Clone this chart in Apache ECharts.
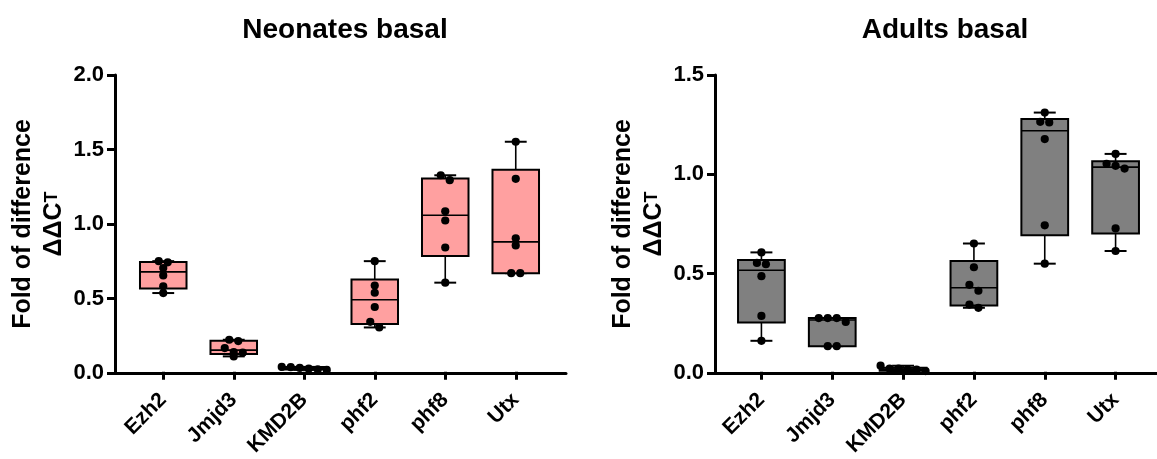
<!DOCTYPE html>
<html>
<head>
<meta charset="utf-8">
<script src="https://cdn.jsdelivr.net/npm/echarts@6/dist/echarts.min.js"></script>
<style>
html,body{margin:0;padding:0;background:#fff;}
#c{width:1157px;height:459px;}
</style>
</head>
<body>
<div id="c"></div>
<script>
// ---- data ----
const categories = ['Ezh2', 'Jmjd3', 'KMD2B', 'phf2', 'phf8', 'Utx'];
const yTicksNeo = [0, 0.5, 1.0, 1.5, 2.0];
const yTicksAdu = [0, 0.5, 1.0, 1.5];

// Neonates basal
const neoMin = [0.530, 0.103, 0.012, 0.298, 0.600, 0.664];
const neoQ1  = [0.561, 0.119, 0.014, 0.322, 0.779, 0.664];
const neoMed = [0.673, 0.145, 0.022, 0.485, 1.054, 0.875];
const neoQ3  = [0.740, 0.208, 0.031, 0.622, 1.302, 1.362];
const neoMax = [0.745, 0.215, 0.032, 0.745, 1.324, 1.550];
const neoPoints = [
  [0.745, 0.737, 0.698, 0.649, 0.575, 0.530],
  [0.215, 0.206, 0.159, 0.132, 0.128, 0.103],
  [0.032, 0.020, 0.012, 0.015, 0.025, 0.030],
  [0.745, 0.581, 0.532, 0.436, 0.336, 0.298],
  [1.324, 1.291, 1.081, 1.019, 0.837, 0.600],
  [1.550, 1.300, 0.899, 0.851, 0.664, 0.664]
];

// Adults basal
const aduMin = [0.156, 0.129, 0.003, 0.323, 0.546, 0.610];
const aduQ1  = [0.248, 0.129, 0.005, 0.335, 0.690, 0.699];
const aduMed = [0.513, 0.261, 0.012, 0.424, 1.218, 1.034];
const aduQ3  = [0.565, 0.271, 0.020, 0.560, 1.277, 1.064];
const aduMax = [0.603, 0.271, 0.030, 0.648, 1.310, 1.101];
const aduPoints = [
  [0.603, 0.550, 0.543, 0.483, 0.282, 0.156],
  [0.271, 0.271, 0.271, 0.251, 0.129, 0.129],
  [0.015, 0.010, 0.003, 0.010, 0.015, 0.030],
  [0.648, 0.528, 0.439, 0.409, 0.339, 0.323],
  [1.310, 1.263, 1.260, 1.176, 0.740, 0.546],
  [1.101, 1.051, 1.041, 1.027, 0.724, 0.610]
];

// ---- chart ----
const FONT = "'Liberation Sans', Arial, sans-serif";
const chart = echarts.init(document.getElementById('c'), null, {renderer: 'canvas'});

function boxData(mn, q1, md, q3, mx) {
  return categories.map((c, i) => [i, mn[i], q1[i], md[i], q3[i], mx[i]]);
}
function pointData(pts) {
  return pts.map((p, i) => [i].concat(p));
}

function renderBox(fill) {
  return function (params, api) {
    const x = api.value(0);
    const band = api.size([1, 0])[0];
    const bw = band * 0.66, cw = band * 0.31;
    const pMin = api.coord([x, api.value(1)]);
    const pQ1 = api.coord([x, api.value(2)]);
    const pMed = api.coord([x, api.value(3)]);
    const pQ3 = api.coord([x, api.value(4)]);
    const pMax = api.coord([x, api.value(5)]);
    const cx = pMed[0];
    const ls = {stroke: '#000', lineWidth: 1.6};
    return {
      type: 'group',
      children: [
        {type: 'line', shape: {x1: cx, y1: pQ3[1], x2: cx, y2: pMax[1]}, style: ls},
        {type: 'line', shape: {x1: cx, y1: pQ1[1], x2: cx, y2: pMin[1]}, style: ls},
        {type: 'line', shape: {x1: cx - cw / 2, y1: pMax[1], x2: cx + cw / 2, y2: pMax[1]}, style: {stroke: '#000', lineWidth: 2}},
        {type: 'line', shape: {x1: cx - cw / 2, y1: pMin[1], x2: cx + cw / 2, y2: pMin[1]}, style: {stroke: '#000', lineWidth: 2}},
        {type: 'rect', shape: {x: cx - bw / 2, y: pQ3[1], width: bw, height: pQ1[1] - pQ3[1]},
          style: {fill: fill, stroke: '#000', lineWidth: 2}},
        {type: 'line', shape: {x1: cx - bw / 2, y1: pMed[1], x2: cx + bw / 2, y2: pMed[1]}, style: ls}
      ]
    };
  };
}

function renderDots(params, api) {
  const x = api.value(0);
  const n = 6;
  const pts = [];
  for (let k = 1; k <= n; k++) {
    pts.push(api.coord([x, api.value(k)]));
  }
  pts.sort((a, b) => a[1] - b[1]);
  const d = 9, r = 4.1;
  const rows = [];
  let cur = [];
  let start = null;
  pts.forEach(p => {
    if (start === null || p[1] - start < d * 0.7) {
      if (start === null) start = p[1];
      cur.push(p);
    } else {
      rows.push(cur); cur = [p]; start = p[1];
    }
  });
  if (cur.length) rows.push(cur);
  const children = [];
  rows.forEach(row => {
    const m = row.length;
    row.forEach((p, j) => {
      const off = (j - (m - 1) / 2) * d;
      children.push({type: 'circle', shape: {cx: p[0] + off, cy: p[1], r: r}, style: {fill: '#000'}});
    });
  });
  return {type: 'group', children: children};
}

const yNameRich = {
  t: {fontSize: 18, fontWeight: 'bold', fontFamily: FONT, color: '#000', verticalAlign: 'bottom', padding: [0, 0, 8, 0]}
};

function frameAxes(gi, max, ticks) {
  return {
    x: {
      gridIndex: gi, type: 'value', min: 0, max: 1,
      axisLine: {show: true, onZero: false, lineStyle: {color: '#000', width: 3}},
      axisTick: {show: false}, axisLabel: {show: false}, splitLine: {show: false}
    },
    y: {
      gridIndex: gi, type: 'value', min: 0, max: max, interval: 0.5,
      axisLine: {show: true, lineStyle: {color: '#000', width: 3}},
      axisTick: {show: true, length: 8, lineStyle: {color: '#000', width: 3}},
      axisLabel: {show: true, fontSize: 22, fontWeight: 'bold', fontFamily: FONT, color: '#000', margin: 11,
        formatter: v => (ticks.indexOf(v) >= 0 ? v.toFixed(1) : '')},
      splitLine: {show: false},
      name: 'Fold of difference\nΔΔC{t|T}',
      nameLocation: 'middle', nameRotate: 90, nameGap: 45,
      nameTextStyle: {fontSize: 25, fontWeight: 'bold', fontFamily: FONT, color: '#000', lineHeight: 31, rich: yNameRich}
    }
  };
}
function catAxes(gi, max) {
  return {
    x: {
      gridIndex: gi, type: 'category', data: categories,
      axisLine: {show: false},
      axisTick: {show: true, alignWithLabel: true, length: 8, lineStyle: {color: '#000', width: 3}},
      axisLabel: {rotate: 45, fontSize: 21, fontWeight: 'bold', fontFamily: FONT, color: '#000', margin: 25, interval: 0}
    },
    y: {gridIndex: gi, type: 'value', min: 0, max: max, show: false}
  };
}

const fL = frameAxes(0, 2, yTicksNeo), cL = catAxes(1, 2);
const fR = frameAxes(2, 1.5, yTicksAdu), cR = catAxes(3, 1.5);

const option = {
  backgroundColor: '#fff',
  animation: false,
  title: [
    {text: 'Neonates basal', left: 340, top: 11, textAlign: 'center',
      textStyle: {fontSize: 28, fontWeight: 'bold', fontFamily: FONT, color: '#000'}},
    {text: 'Adults basal', left: 940, top: 11, textAlign: 'center',
      textStyle: {fontSize: 28, fontWeight: 'bold', fontFamily: FONT, color: '#000'}}
  ],
  grid: [
    {left: 115, top: 75, width: 451, height: 298},
    {left: 128, top: 75, width: 423, height: 298},
    {left: 715, top: 75, width: 442, height: 298},
    {left: 726, top: 75, width: 425, height: 298}
  ],
  xAxis: [fL.x, cL.x, fR.x, cR.x],
  yAxis: [fL.y, cL.y, fR.y, cR.y],
  series: [
    {type: 'custom', xAxisIndex: 1, yAxisIndex: 1, renderItem: renderBox('#FFA0A0'),
      data: boxData(neoMin, neoQ1, neoMed, neoQ3, neoMax), encode: {x: 0, y: [1, 2, 3, 4, 5]}, z: 2},
    {type: 'custom', xAxisIndex: 1, yAxisIndex: 1, renderItem: renderDots,
      data: pointData(neoPoints), encode: {x: 0, y: [1, 2, 3, 4, 5, 6]}, z: 3},
    {type: 'custom', xAxisIndex: 3, yAxisIndex: 3, renderItem: renderBox('#808080'),
      data: boxData(aduMin, aduQ1, aduMed, aduQ3, aduMax), encode: {x: 0, y: [1, 2, 3, 4, 5]}, z: 2},
    {type: 'custom', xAxisIndex: 3, yAxisIndex: 3, renderItem: renderDots,
      data: pointData(aduPoints), encode: {x: 0, y: [1, 2, 3, 4, 5, 6]}, z: 3}
  ]
};
chart.setOption(option);
</script>
</body>
</html>
